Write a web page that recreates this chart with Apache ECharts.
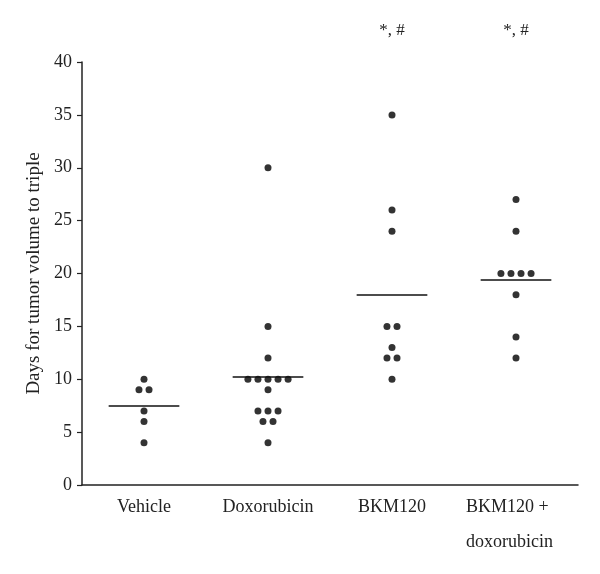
<!DOCTYPE html>
<html>
<head>
<meta charset="utf-8">
<script src="https://cdn.jsdelivr.net/npm/echarts@6/dist/echarts.min.js"></script>
<style>html,body{margin:0;padding:0;background:#fff}#c{width:600px;height:574px}</style>
</head>
<body>
<div id="c"></div>
<script>
const categories = ['Vehicle', 'Doxorubicin', 'BKM120', 'BKM120 +\ndoxorubicin'];
const vehicle = [10, 9, 9, 7, 6, 4];
const doxorubicin = [30, 15, 12, 10, 10, 10, 10, 10, 9, 7, 7, 7, 6, 6, 4];
const bkm120 = [35, 26, 24, 15, 15, 13, 12, 12, 10];
const combo = [27, 24, 20, 20, 20, 20, 18, 14, 12];
const annotations = ['', '', '*, #', '*, #'];
const yMin = 0, yMax = 40, yInterval = 5;

const groups = [vehicle, doxorubicin, bkm120, combo];
const FONT = 'Liberation Serif';
const STEP = 0.081;      // horizontal spacing of tied dots (axis units)
const HALF = 0.285;      // half width of mean line (axis units)

const points = [];
const meanLines = [];
groups.forEach((vals, gi) => {
  const counts = {};
  vals.forEach(v => counts[v] = (counts[v] || 0) + 1);
  const seen = {};
  vals.forEach(v => {
    const n = counts[v];
    const k = seen[v] = (seen[v] === undefined ? 0 : seen[v] + 1);
    points.push([gi + (k - (n - 1) / 2) * STEP, v]);
  });
  const m = vals.reduce((a, b) => a + b, 0) / vals.length;
  meanLines.push([{coord: [gi - HALF, m]}, {coord: [gi + HALF, m]}]);
});

const annPoints = annotations.map((t, i) => t ? {coord: [i, yMax], value: t} : null).filter(Boolean);

const chart = echarts.init(document.getElementById('c'));
chart.setOption({
  animation: false,
  backgroundColor: '#fff',
  grid: {left: 82, right: 22, top: 62, bottom: 89, containLabel: false},
  xAxis: [{
    type: 'category',
    data: categories,
    boundaryGap: true,
    axisLine: {lineStyle: {color: '#222', width: 1.5}},
    axisTick: {alignWithLabel: true, length: 4, interval: 0, lineStyle: {color: '#222', width: 1.2}},
    axisLabel: {
      interval: 0,
      color: '#222', fontFamily: FONT, fontSize: 18, margin: 5, lineHeight: 35,
      formatter: v => v.indexOf('\n') >= 0 ? v.split('\n').map(s => '{l|' + s + '}').join('\n') : v,
      rich: {l: {width: 100, align: 'left', fontFamily: FONT, fontSize: 18, lineHeight: 35, color: '#222'}}
    },
    splitLine: {show: false}
  }, {
    type: 'value', min: -0.5, max: 3.5, show: false
  }],
  yAxis: {
    type: 'value', min: yMin, max: yMax, interval: yInterval,
    name: 'Days for tumor volume to triple',
    nameLocation: 'middle', nameGap: 38,
    nameTextStyle: {color: '#222', fontFamily: FONT, fontSize: 19},
    axisLine: {show: true, onZero: false, lineStyle: {color: '#222', width: 1.5}},
    axisTick: {show: true, length: 5, lineStyle: {color: '#222', width: 1.2}},
    axisLabel: {color: '#222', fontFamily: FONT, fontSize: 18, margin: 10},
    splitLine: {show: false}
  },
  series: [{
    type: 'scatter',
    xAxisIndex: 1,
    data: points,
    symbol: 'circle',
    symbolSize: 7,
    itemStyle: {color: '#000'},
    markLine: {
      silent: true, symbol: 'none',
      label: {show: false},
      lineStyle: {color: '#111', width: 1.5, type: 'solid'},
      data: meanLines
    },
    markPoint: {
      silent: true,
      symbol: 'circle', symbolSize: 1,
      itemStyle: {color: 'rgba(0,0,0,0)'},
      label: {show: true, position: 'inside', offset: [0, -31], color: '#222', fontFamily: FONT, fontSize: 17,
        formatter: p => p.value},
      data: annPoints
    }
  }]
});
</script>
</body>
</html>
